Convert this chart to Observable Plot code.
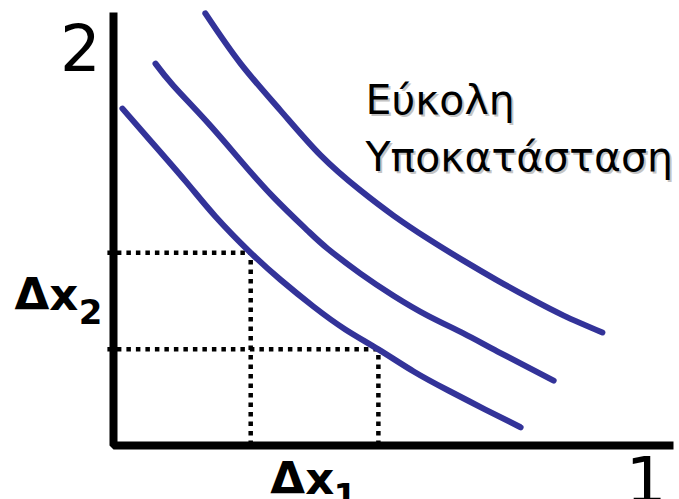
<!DOCTYPE html>
<html>
<head>
<meta charset="utf-8">
<script src="https://cdn.jsdelivr.net/npm/d3@7"></script>
<script src="https://cdn.jsdelivr.net/npm/@observablehq/plot@0.6"></script>
<style>
  html, body { margin: 0; padding: 0; background: #fff; }
  #chart svg { display: block; overflow: visible; }
</style>
</head>
<body>
<div id="chart"></div>
<script>
// Three indifference curves (easy substitution), good 1 on x, good 2 on y.
const lowCurve  = [[0.16, 7.78], [0.66, 7.04], [1.29, 6.10], [1.82, 5.29], [2.45, 4.45], [2.98, 3.83], [3.57, 3.21], [4.14, 2.68], [4.73, 2.22], [5.36, 1.71], [5.98, 1.27], [6.64, 0.83], [7.27, 0.42]];
const midCurve  = [[0.75, 8.82], [1.07, 8.31], [1.68, 7.46], [2.27, 6.58], [2.86, 5.73], [3.46, 4.97], [3.82, 4.55], [4.41, 3.97], [5.00, 3.46], [5.61, 3.00], [6.25, 2.59], [6.86, 2.17], [7.86, 1.50]];
const highCurve = [[1.64, 9.98], [2.27, 8.82], [2.98, 7.74], [3.70, 6.70], [4.41, 5.89], [5.00, 5.31], [5.61, 4.78], [6.25, 4.27], [6.86, 3.81], [7.45, 3.39], [8.04, 3.00], [8.73, 2.61]];

// Two bundles on the lowest curve, marked with dotted guides
const bundleX = [2.45, 4.73];
const bundleY = [4.45, 2.22];

// Axis extents
const axisX = [0, 0, 10];
const axisY = [10, 0, 0];

// Text labels
const axisTop = "2";
const axisRight = "1";
const deltaMain = "Δx";
const deltaSubs = ["2", "1"];
const note = "Εύκολη\nΥποκατάσταση";

const curveColor = "#333399";
const idx = [0, 1];

const chart = Plot.plot({
  width: 679,
  height: 499,
  marginLeft: 113,
  marginRight: 6,
  marginTop: 12,
  marginBottom: 54,
  x: {domain: [0, 10], axis: null},
  y: {domain: [0, 10], axis: null},
  style: {fontFamily: "DejaVu Sans, Verdana, sans-serif", background: "#fff", overflow: "visible"},
  marks: [
    // dotted guides to the axes
    Plot.ruleY(idx, {y: i => bundleY[i], x1: -0.1, x2: i => bundleX[i], stroke: "#000", strokeWidth: 4.5, strokeDasharray: "4.5,5"}),
    Plot.ruleX(idx, {x: i => bundleX[i], y1: 0, y2: i => bundleY[i], stroke: "#000", strokeWidth: 4.5, strokeDasharray: "4.5,5"}),
    // indifference curves
    Plot.line(lowCurve,  {x: d => d[0], y: d => d[1], stroke: curveColor, strokeWidth: 6, curve: "natural"}),
    Plot.line(midCurve,  {x: d => d[0], y: d => d[1], stroke: curveColor, strokeWidth: 6, curve: "natural"}),
    Plot.line(highCurve, {x: d => d[0], y: d => d[1], stroke: curveColor, strokeWidth: 6, curve: "natural"}),
    // axes as one L-shaped line
    Plot.line(axisX.map((x, i) => [x, axisY[i]]), {x: d => d[0], y: d => d[1], stroke: "#000", strokeWidth: 8, strokeLinejoin: "miter", strokeLinecap: "butt"}),
    // axis end labels
    Plot.text([axisTop], {x: -0.23, y: 8.64, text: d => d, textAnchor: "end", lineAnchor: "bottom", fontSize: 64, fill: "#000"}),
    Plot.text([axisRight], {x: 9.51, y: -1.32, text: d => d, textAnchor: "middle", lineAnchor: "bottom", fontSize: 64, fill: "#000"}),
    // Δx2 on the y side, Δx1 below the x axis
    Plot.text([deltaMain], {x: -1.77, y: 3.12, text: d => d, textAnchor: "start", lineAnchor: "bottom", fontSize: 45, fontWeight: "bold", fill: "#000"}),
    Plot.text([deltaSubs[0]], {x: -0.62, y: 2.8, text: d => d, textAnchor: "start", lineAnchor: "bottom", fontSize: 34, fontWeight: "bold", fill: "#000"}),
    Plot.text([deltaMain], {x: 2.80, y: -1.13, text: d => d, textAnchor: "start", lineAnchor: "bottom", fontSize: 45, fontWeight: "bold", fill: "#000"}),
    Plot.text([deltaSubs[1]], {x: 3.93, y: -1.45, text: d => d, textAnchor: "start", lineAnchor: "bottom", fontSize: 34, fontWeight: "bold", fill: "#000"}),
    // note with a soft shadow
    Plot.text([note], {x: 4.5, y: 6.35, dx: 2, dy: 2, text: d => d, textAnchor: "start", lineAnchor: "bottom", lineHeight: 1.39, fontSize: 41, fill: "#c4c4c4"}),
    Plot.text([note], {x: 4.5, y: 6.35, text: d => d, textAnchor: "start", lineAnchor: "bottom", lineHeight: 1.39, fontSize: 41, fill: "#000"})
  ]
});

document.getElementById("chart").appendChild(chart);
</script>
</body>
</html>
